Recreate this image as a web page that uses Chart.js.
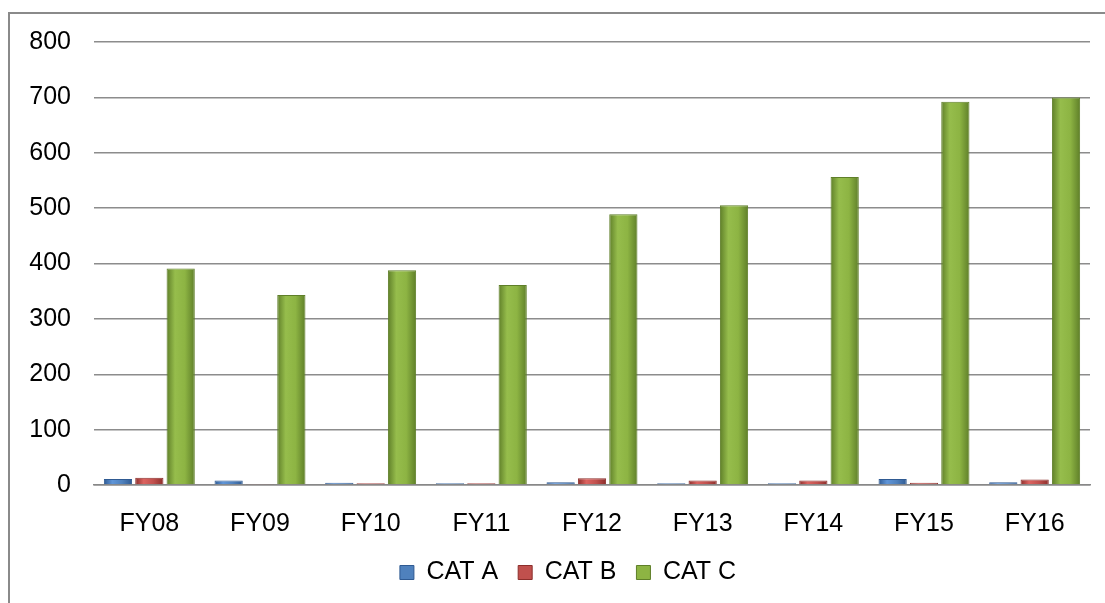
<!DOCTYPE html>
<html>
<head>
<meta charset="utf-8">
<script src="https://cdn.jsdelivr.net/npm/chart.js@4/dist/chart.umd.min.js"></script>
<style>
  html, body { margin: 0; padding: 0; background: #fff; overflow: hidden; }
  #frame { position: absolute; left: 8px; top: 12px; width: 1200px; height: 700px; border: 2px solid #8a8a8a; }
  #chart { position: absolute; left: 0; top: 0; }
</style>
</head>
<body>
<div id="frame"></div>
<canvas id="chart" width="1105" height="603"></canvas>
<script>
// dados
const years = ['FY08', 'FY09', 'FY10', 'FY11', 'FY12', 'FY13', 'FY14', 'FY15', 'FY16'];
const catA = [11, 8, 4, 3, 5, 3, 3, 11, 5];
const catB = [13, 2, 3, 3, 12, 8, 8, 4, 10];
const catC = [391, 343, 388, 361, 489, 505, 556, 692, 700];
const yTicks = [0, 100, 200, 300, 400, 500, 600, 700, 800];

// cores (base, claro, escuro) no estilo do Excel 2007
const palette = [
    { base: '#4f81bd', light: '#5f95d8', dark: '#2f5a92' },
    { base: '#c0504d', light: '#dc6360', dark: '#8c2e2b' },
    { base: '#8db443', light: '#96bd4c', dark: '#5f7f29' }
];

const CAT_PCT = 0.85;
const BAR_PCT = 0.9;

// gradiente horizontal por barra (bordas escuras, meio claro)
function barFill(pal) {
    return (c) => {
        const chart = c.chart;
        const x = chart.scales.x;
        if (!x || !x.width || c.dataIndex === undefined) return pal.base;
        const nSets = chart.data.datasets.length;
        const catW = x.width / chart.data.labels.length;
        const groupW = catW * CAT_PCT;
        const slotW = groupW / nSets;
        const bw = slotW * BAR_PCT;
        const cx = x.getPixelForValue(c.dataIndex) - groupW / 2 + slotW * (c.datasetIndex + 0.5);
        const g = chart.ctx.createLinearGradient(cx - bw / 2, 0, cx + bw / 2, 0);
        g.addColorStop(0, pal.dark);
        g.addColorStop(0.3, pal.light);
        g.addColorStop(0.65, pal.base);
        g.addColorStop(1, pal.dark);
        return g;
    };
}

// empurra a legenda um pouco para a direita (no original ela não fica centrada no canvas)
const legendOffset = {
    id: 'legendOffset',
    afterLayout(chart) {
        if (chart.legend) chart.legend.left += 46;
    }
};

const font = { family: "'Liberation Sans', Arial, sans-serif", size: 25 };

new Chart(document.getElementById('chart'), {
    type: 'bar',
    data: {
        labels: years,
        datasets: [
            { label: 'CAT A', data: catA },
            { label: 'CAT B', data: catB },
            { label: 'CAT C', data: catC }
        ].map((ds, i) => ({
            ...ds,
            backgroundColor: barFill(palette[i]),
            borderColor: palette[i].dark,
            borderWidth: 1,
            categoryPercentage: CAT_PCT,
            barPercentage: BAR_PCT
        }))
    },
    plugins: [legendOffset],
    options: {
        responsive: false,
        animation: false,
        layout: { padding: { top: 42, right: 15, bottom: 8, left: 0 } },
        scales: {
            x: {
                grid: { display: false },
                border: { display: true, color: '#888', width: 1.5 },
                ticks: { color: '#000', font: font, padding: 16, maxRotation: 0 },
                afterFit: (s) => { s.height = 55; }
            },
            y: {
                min: 0,
                max: 800,
                afterBuildTicks: (s) => { s.ticks = yTicks.map(v => ({ value: v })); },
                grid: { color: '#8c8c8c', lineWidth: 1.5, drawTicks: false },
                border: { display: false },
                ticks: { color: '#000', font: font, padding: 23 },
                afterFit: (s) => { s.width = 94; }
            }
        },
        plugins: {
            tooltip: { enabled: false },
            legend: {
                position: 'bottom',
                labels: {
                    color: '#000',
                    font: font,
                    boxWidth: 14,
                    boxHeight: 14,
                    padding: 20,
                    generateLabels: (chart) => {
                        const items = Chart.defaults.plugins.legend.labels.generateLabels(chart);
                        items.forEach((it, i) => {
                            it.fillStyle = palette[i].base;
                            it.strokeStyle = palette[i].dark;
                            it.lineWidth = 1;
                        });
                        return items;
                    }
                }
            }
        }
    }
});
</script>
</body>
</html>
